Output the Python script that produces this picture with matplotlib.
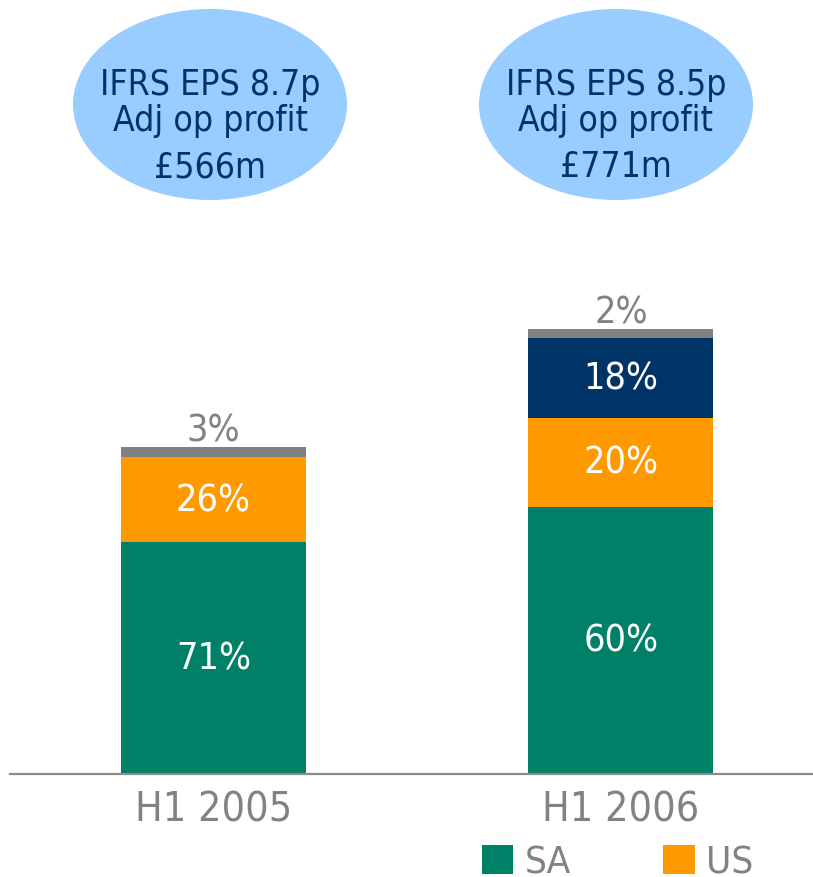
import numpy as np
import matplotlib.pyplot as plt
from matplotlib.patches import Ellipse, Patch

# data
periods = ['H1 2005', 'H1 2006']
sa_pct = [71, 60]
us_pct = [26, 20]
new_pct = [0, 18]
other_pct = [3, 2]
eps = ['8.7p', '8.5p']
adj_profit = [566, 771]   # £m

green = '#008066'
orange = '#FF9900'
navy = '#003366'
grey = '#808080'
txt_grey = '#808285'
bubble = '#99CCFF'

plt.rcParams['font.family'] = 'DejaVu Sans'
plt.rcParams['font.stretch'] = 'condensed'

W, H = 813, 877
fig = plt.figure(figsize=(W / 100, H / 100), dpi=100)

# axes: baseline at y=774px, starts at x=10px
ax = fig.add_axes([10 / W, 103 / H, 803 / W, 774 / H])
px_per_unit = 0.577
ax.set_xlim(-0.4994, 1.4712)
ax.set_ylim(0, 774 / px_per_unit)

x = np.arange(len(periods))
profit = np.array(adj_profit, dtype=float)
layers = [(sa_pct, green, 'white'), (us_pct, orange, 'white'),
          (new_pct, navy, 'white'), (other_pct, grey, None)]
bottom = np.zeros(len(periods))
width = 0.454
for pct, col, tcol in layers:
    h = np.array(pct) / 100.0 * profit
    ax.bar(x, h, width, bottom=bottom, color=col, linewidth=0)
    for i in range(len(x)):
        if pct[i] == 0:
            continue
        if tcol:
            ax.annotate('%d%%' % pct[i], (x[i], bottom[i] + h[i] / 2),
                        xytext=(0, -1), textcoords='offset points',
                        ha='center', va='center', color=tcol, fontsize=27)
        else:
            ax.annotate('%d%%' % pct[i], (x[i], bottom[i] + h[i]),
                        xytext=(0, 4.3), textcoords='offset points',
                        ha='center', va='baseline', color=txt_grey, fontsize=27)
    bottom += h

for s in ['top', 'right', 'left']:
    ax.spines[s].set_visible(False)
ax.spines['bottom'].set_color('#8c8c8c')
ax.spines['bottom'].set_linewidth(1.6)
ax.set_yticks([])
ax.set_xticks(x)
ax.set_xticklabels(periods, fontsize=29.5, color=txt_grey)
ax.tick_params(axis='x', length=0, pad=12)
ax.patch.set_alpha(0)

# bubbles with EPS / profit
centres = [210, 616]
for i in range(len(periods)):
    cx = centres[i] / W
    fig.add_artist(Ellipse((cx, 1 - 104.5 / H), 274 / W, 191 / H,
                           transform=fig.transFigure, facecolor=bubble,
                           edgecolor='none'))
    lines = ['IFRS EPS ' + eps[i], 'Adj op profit', '£%dm' % adj_profit[i]]
    for line, yb in zip(lines, [95, 131, 177]):
        fig.text(cx, 1 - yb / H, line, ha='center', va='baseline',
                 fontsize=25.5, color=navy)

handles = [Patch(facecolor=green, label='SA'), Patch(facecolor=orange, label='US')]
fig.legend(handles=handles, loc='lower left', bbox_to_anchor=(482 / W, -4 / H),
           ncol=2, frameon=False, fontsize=27.7, labelcolor=txt_grey,
           handlelength=0.81, handleheight=0.81, handletextpad=0.3,
           columnspacing=2.4, borderpad=0, borderaxespad=0)

fig.savefig('out.png', dpi=100)
